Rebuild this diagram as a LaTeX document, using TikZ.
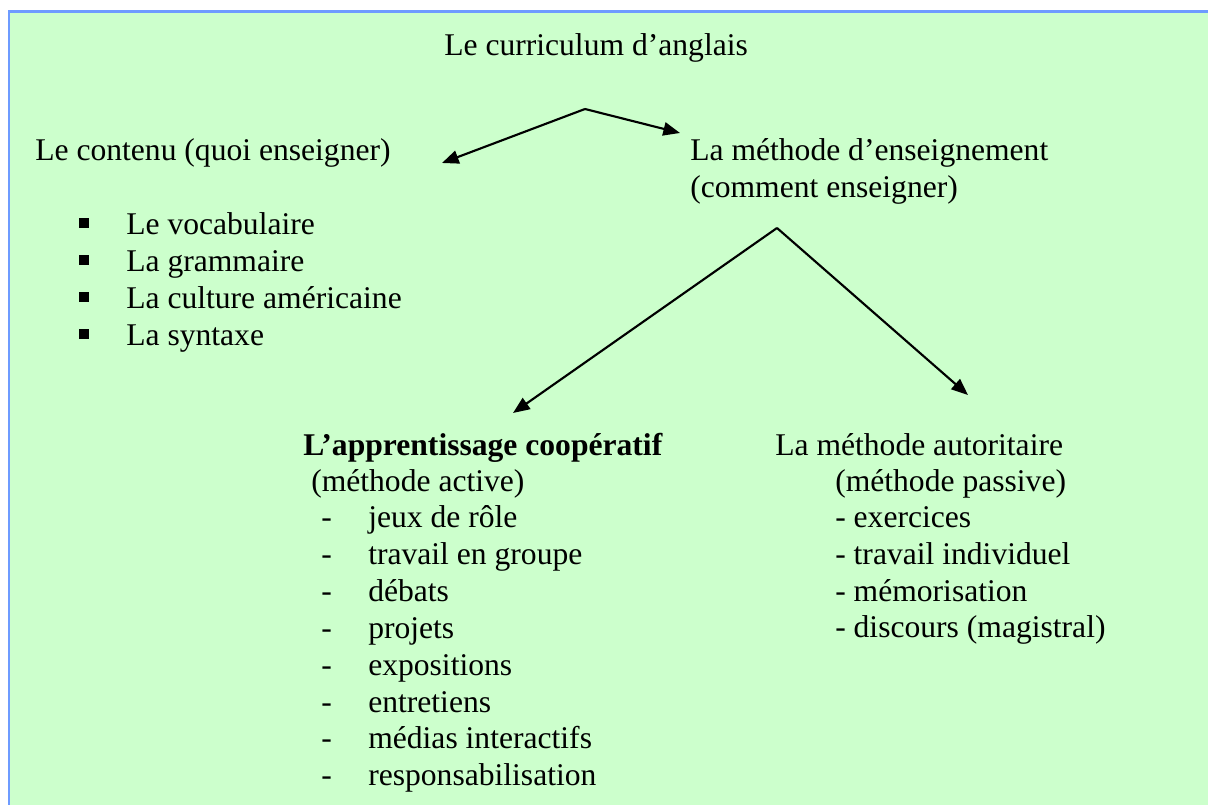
\documentclass[tikz,border=0pt]{standalone}
\usepackage{fontspec}
\setmainfont{Liberation Serif}
\usetikzlibrary{arrows.meta}
\definecolor{bgreen}{RGB}{204,255,204}
\definecolor{bblue}{RGB}{110,155,255}
\tikzset{
  txt/.style={anchor=base west, inner sep=0pt, font=\fontsize{23.7pt}{27.6pt}\selectfont},
  arr/.style={line width=1.6pt, -{Triangle[length=12.5pt,width=10pt]}},
  sq/.style={fill=black, minimum size=7pt, inner sep=0pt}
}
\begin{document}
\begin{tikzpicture}[x=0.75pt,y=-0.75pt]
\useasboundingbox (0,0) rectangle (1208,805);
\fill[white] (0,0) rectangle (1208,805);
\fill[bgreen] (9,11) rectangle (1208,805);
\draw[bblue, line width=2.2pt] (9,805) -- (9,11.5) -- (1208,11.5);

\node[txt] (title) at (444,56) {Le curriculum d’anglais};
\node[txt] (contenu) at (35,161) {Le contenu (quoi enseigner)};
\node[txt] (methode) at (690,161) {La méthode d’enseignement};
\node[txt] (comment) at (690,198) {(comment enseigner)};

\node[sq] (b1) at (84,223) {};
\node[sq] (b2) at (84,260) {};
\node[sq] (b3) at (84,297) {};
\node[sq] (b4) at (84,334) {};
\node[txt] (l1) at (126,235) {Le vocabulaire};
\node[txt] (l2) at (126,272) {La grammaire};
\node[txt] (l3) at (126,309) {La culture américaine};
\node[txt] (l4) at (126,346) {La syntaxe};

\coordinate (apex1) at (585,109);
\coordinate (tip1) at (442,163);
\coordinate (tip2) at (680,133);
\draw[arr] (apex1) -- (tip1);
\draw[arr] (apex1) -- (tip2);

\coordinate (apex2) at (777,228);
\coordinate (tip3) at (513,413);
\coordinate (tip4) at (968,395);
\draw[arr] (apex2) -- (tip3);
\draw[arr] (apex2) -- (tip4);

\node[txt, font=\fontsize{23.7pt}{27.6pt}\selectfont\bfseries] (coop) at (303,456) {L’apprentissage coopératif};
\node[txt] (active) at (311,492) {(méthode active)};
\foreach \t [count=\i from 0] in {jeux de rôle, travail en groupe, débats, projets, expositions, entretiens, médias interactifs, responsabilisation}{
  \node[txt] (d\i) at (321,{528+36.8*\i}) {-};
  \node[txt] (c\i) at (368,{528+36.8*\i}) {\t};
}

\node[txt] (auto) at (775,456) {La méthode autoritaire};
\node[txt] (passive) at (835,492) {(méthode passive)};
\node[txt] (r1) at (835,528) {- exercices};
\node[txt] (r2) at (835,565) {- travail individuel};
\node[txt] (r3) at (835,602) {- mémorisation};
\node[txt] (r4) at (835,638) {- discours (magistral)};
\end{tikzpicture}
\end{document}
